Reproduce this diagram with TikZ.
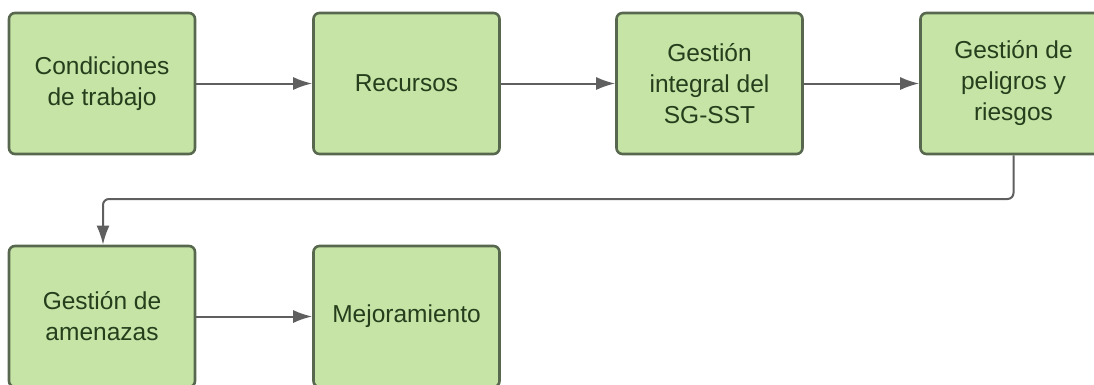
\documentclass[tikz,border=0pt]{standalone}
\usepackage{fontspec}
\setmainfont{Liberation Sans}
\usetikzlibrary{arrows.meta}
\definecolor{boxfill}{RGB}{197,228,166}
\definecolor{boxline}{RGB}{88,104,78}
\definecolor{boxtext}{RGB}{38,62,28}
\definecolor{arrowc}{RGB}{95,95,95}
\tikzset{
  box/.style={draw=boxline, line width=2.6pt, fill=boxfill, rounded corners=6pt,
    minimum width=186pt, minimum height=141pt, inner sep=0pt,
    text=boxtext, align=center, font=\fontsize{24.5}{31}\selectfont},
  conn/.style={draw=arrowc, line width=2pt, -{Latex[length=19pt,width=13pt]}, rounded corners=6pt}
}
\begin{document}
\begin{tikzpicture}[x=1pt,y=-1pt]
\useasboundingbox (0,0) rectangle (1094,384);
\node[box] (b1) at (102,83.5) {Condiciones\\de trabajo\vphantom{g}};
\node[box] (b2) at (406.5,83.5) {Recursos};
\node[box] (b3) at (709.5,83.5) {Gestión\\integral del\\SG-SST};
\node[box] (b4) at (1013.5,83.5) {Gestión de\\peligros y\\riesgos};
\node[box] (b5) at (102,316.5) {Gestión de\\amenazas};
\node[box] (b6) at (406.5,316.5) {Mejoramiento};
\coordinate (c1) at (1013.5,199);
\coordinate (c2) at (103,199);
\draw[conn] (b1.east) -- (b2.west);
\draw[conn] (b2.east) -- (b3.west);
\draw[conn] (b3.east) -- (b4.west);
\draw[conn] (b4.south) -- (c1) -- (c2) -- (b5.north -| c2);
\draw[conn] (b5.east) -- (b6.west);
\end{tikzpicture}
\end{document}
